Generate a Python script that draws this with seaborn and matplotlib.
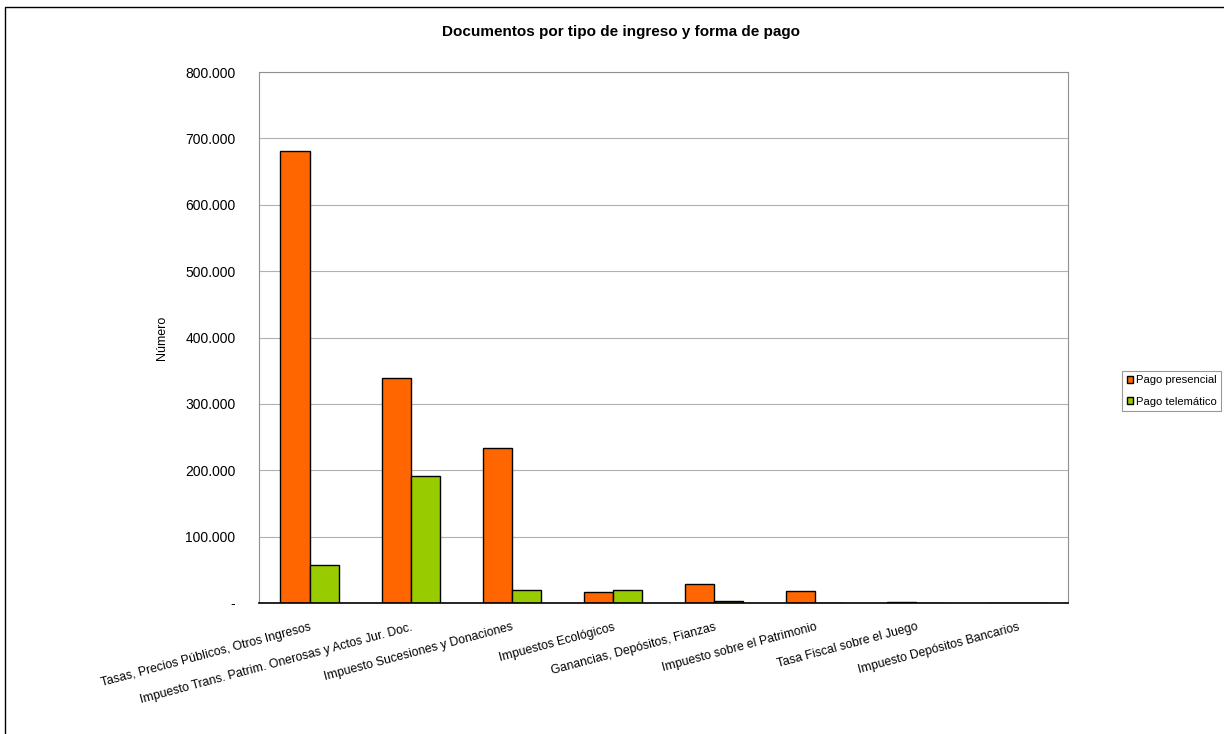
import numpy as np
import pandas as pd
import seaborn as sns
import matplotlib.pyplot as plt
from matplotlib.patches import Rectangle
from matplotlib.ticker import FuncFormatter


categorias = [
    'Tasas, Precios Públicos, Otros Ingresos',
    'Impuesto Trans. Patrim. Onerosas y Actos Jur. Doc.',
    'Impuesto Sucesiones y Donaciones',
    'Impuestos Ecológicos',
    'Ganancias, Depósitos, Fianzas',
    'Impuesto sobre el Patrimonio',
    'Tasa Fiscal sobre el Juego',
    'Impuesto Depósitos Bancarios',
]
pago_presencial = [681000, 339000, 234000, 16000, 28500, 18500, 1500, 0]
pago_telematico = [57000, 191000, 19500, 19000, 2500, 0, 0, 0]
series = ['Pago presencial', 'Pago telemático']
colores = {'Pago presencial': '#FF6600', 'Pago telemático': '#99CC00'}

sns.set_theme(style='white')
plt.rcParams['font.family'] = ['Liberation Sans', 'DejaVu Sans']
plt.rcParams['text.color'] = 'black'
plt.rcParams['axes.labelcolor'] = 'black'

df = pd.DataFrame({
    'tipo': categorias * 2,
    'forma': [series[0]] * len(categorias) + [series[1]] * len(categorias),
    'valor': pago_presencial + pago_telematico,
})

fig = plt.figure(figsize=(12.24, 7.34), dpi=100)
ax = fig.add_axes([259 / 1224, 1 - 603 / 734, 809 / 1224, 531 / 734])

sns.barplot(data=df, x='tipo', y='valor', hue='forma', palette=colores,
            width=0.575, edgecolor='black', linewidth=1, saturation=1, ax=ax)

ax.set_xlim(-0.5, len(categorias) - 0.5)
ax.set_ylim(0, 800000)
ax.set_yticks(np.arange(0, 800001, 100000))
ax.yaxis.set_major_formatter(FuncFormatter(
    lambda v, p: '-' if v == 0 else '{:,.0f}'.format(v).replace(',', '.')))
ax.grid(True, axis='y', color='#b0b0b0', linewidth=0.8)
ax.set_axisbelow(True)
for s in ['top', 'right', 'left']:
    ax.spines[s].set_color('#909090')
    ax.spines[s].set_linewidth(0.8)
ax.spines['bottom'].set_color('black')
ax.spines['bottom'].set_linewidth(1.2)
ax.tick_params(axis='both', length=0, colors='black')
ax.tick_params(axis='y', pad=17, labelsize=10)
ax.tick_params(axis='x', pad=13, labelsize=8.8)

ax.set_xticks(range(len(categorias)))
ax.set_xticklabels(categorias, rotation=15, ha='right', rotation_mode='anchor')
ax.set_xlabel('')
ax.set_ylabel('Número', fontsize=9, labelpad=12)

leg = ax.legend(loc='center left', bbox_to_anchor=(1122 / 1224, 1 - 391 / 734),
                bbox_transform=fig.transFigure, frameon=True, fontsize=8.1,
                handlelength=0.6, handleheight=0.6, handletextpad=0.2,
                borderpad=0.4, borderaxespad=0, labelspacing=1.0, fancybox=False)
leg.get_frame().set_edgecolor('#808080')
leg.get_frame().set_linewidth(0.8)

fig.text(621 / 1224, 1 - 32 / 734, 'Documentos por tipo de ingreso y forma de pago',
         ha='center', va='center', fontsize=11, fontweight='bold')

fig.patches.append(Rectangle((5 / 1224, -0.01), 1.02, 1 - 7 / 734 + 0.01,
                             transform=fig.transFigure, fill=False,
                             edgecolor='black', linewidth=1))

fig.savefig('out.png', dpi=100)
